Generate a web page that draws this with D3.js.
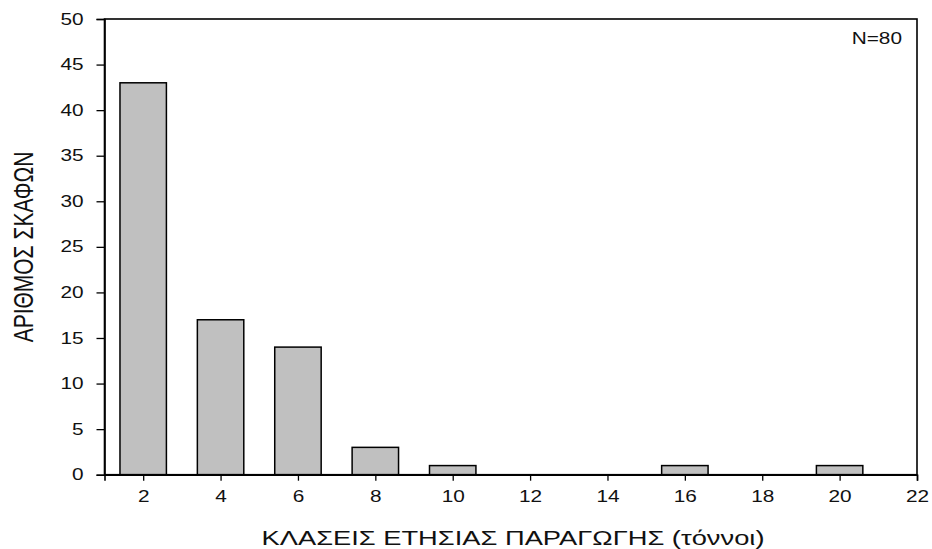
<!DOCTYPE html>
<html>
<head>
<meta charset="utf-8">
<script src="https://cdn.jsdelivr.net/npm/d3@7"></script>
<style>
  body { margin: 0; background: #fff; }
  text { font-family: "Liberation Sans", Arial, sans-serif; fill: #111; }
</style>
</head>
<body>
<svg id="chart" width="932" height="549"></svg>
<script>
// production classes (tonnes) and number of vessels
const classes = [2, 4, 6, 8, 10, 12, 14, 16, 18, 20];
const vessels = [43, 17, 14, 3, 1, 0, 0, 1, 0, 1];
const xTicks = [2, 4, 6, 8, 10, 12, 14, 16, 18, 20, 22];
const yTicks = [0, 5, 10, 15, 20, 25, 30, 35, 40, 45, 50];

const svg = d3.select("#chart");
const plotLeft = 104.5, plotRight = 917, plotTop = 19, plotBottom = 474.7;
const stretch = 1.3; // text in the original is drawn wide

const x = d3.scaleLinear().domain([1, 22]).range([plotLeft, plotRight]);
const y = d3.scaleLinear().domain([0, 50]).range([plotBottom, plotTop]);

// bars
svg.append("g")
  .selectAll("rect")
  .data(classes.map((c, i) => ({ c: c, v: vessels[i] })).filter(d => d.v > 0))
  .enter()
  .append("rect")
  .attr("x", d => x(d.c - 0.6))
  .attr("width", d => x(d.c + 0.6) - x(d.c - 0.6))
  .attr("y", d => y(d.v))
  .attr("height", d => y(0) - y(d.v))
  .attr("fill", "#c0c0c0")
  .attr("stroke", "#000")
  .attr("stroke-width", 1.5);

// frame
svg.append("rect")
  .attr("x", plotLeft).attr("y", plotTop)
  .attr("width", plotRight - plotLeft).attr("height", plotBottom - plotTop)
  .attr("fill", "none").attr("stroke", "#000").attr("stroke-width", 1.6);

// axes
const xAxis = svg.append("g")
  .attr("transform", "translate(0," + plotBottom + ")")
  .call(d3.axisBottom(x).tickValues(xTicks).tickSize(6).tickPadding(10));
const yAxis = svg.append("g")
  .attr("transform", "translate(" + plotLeft + ",0)")
  .call(d3.axisLeft(y).tickValues(yTicks).tickSize(8));

[xAxis, yAxis].forEach(a => {
  a.select(".domain").attr("stroke", "#000").attr("stroke-width", 1.6);
  a.selectAll(".tick line").attr("stroke", "#000").attr("stroke-width", 1.3);
  a.selectAll(".tick text").style("font-size", "16px").attr("fill", "#111")
    .attr("transform", "scale(" + stretch + ",1)");
});
yAxis.selectAll(".tick text").attr("x", -21 / stretch);

// axis titles
svg.append("text")
  .attr("transform", "translate(513,545) scale(" + stretch + ",1)")
  .attr("text-anchor", "middle")
  .style("font-size", "21px")
  .text("ΚΛΑΣΕΙΣ ΕΤΗΣΙΑΣ ΠΑΡΑΓΩΓΗΣ (τόννοι)");

svg.append("text")
  .attr("transform", "translate(33,247) scale(" + stretch + ",1) rotate(-90)")
  .attr("text-anchor", "middle")
  .style("font-size", "21px")
  .text("ΑΡΙΘΜΟΣ ΣΚΑΦΩΝ");

svg.append("text")
  .attr("transform", "translate(902,43.5) scale(" + stretch + ",1)")
  .attr("text-anchor", "end")
  .style("font-size", "16px")
  .text("N=80");
</script>
</body>
</html>
